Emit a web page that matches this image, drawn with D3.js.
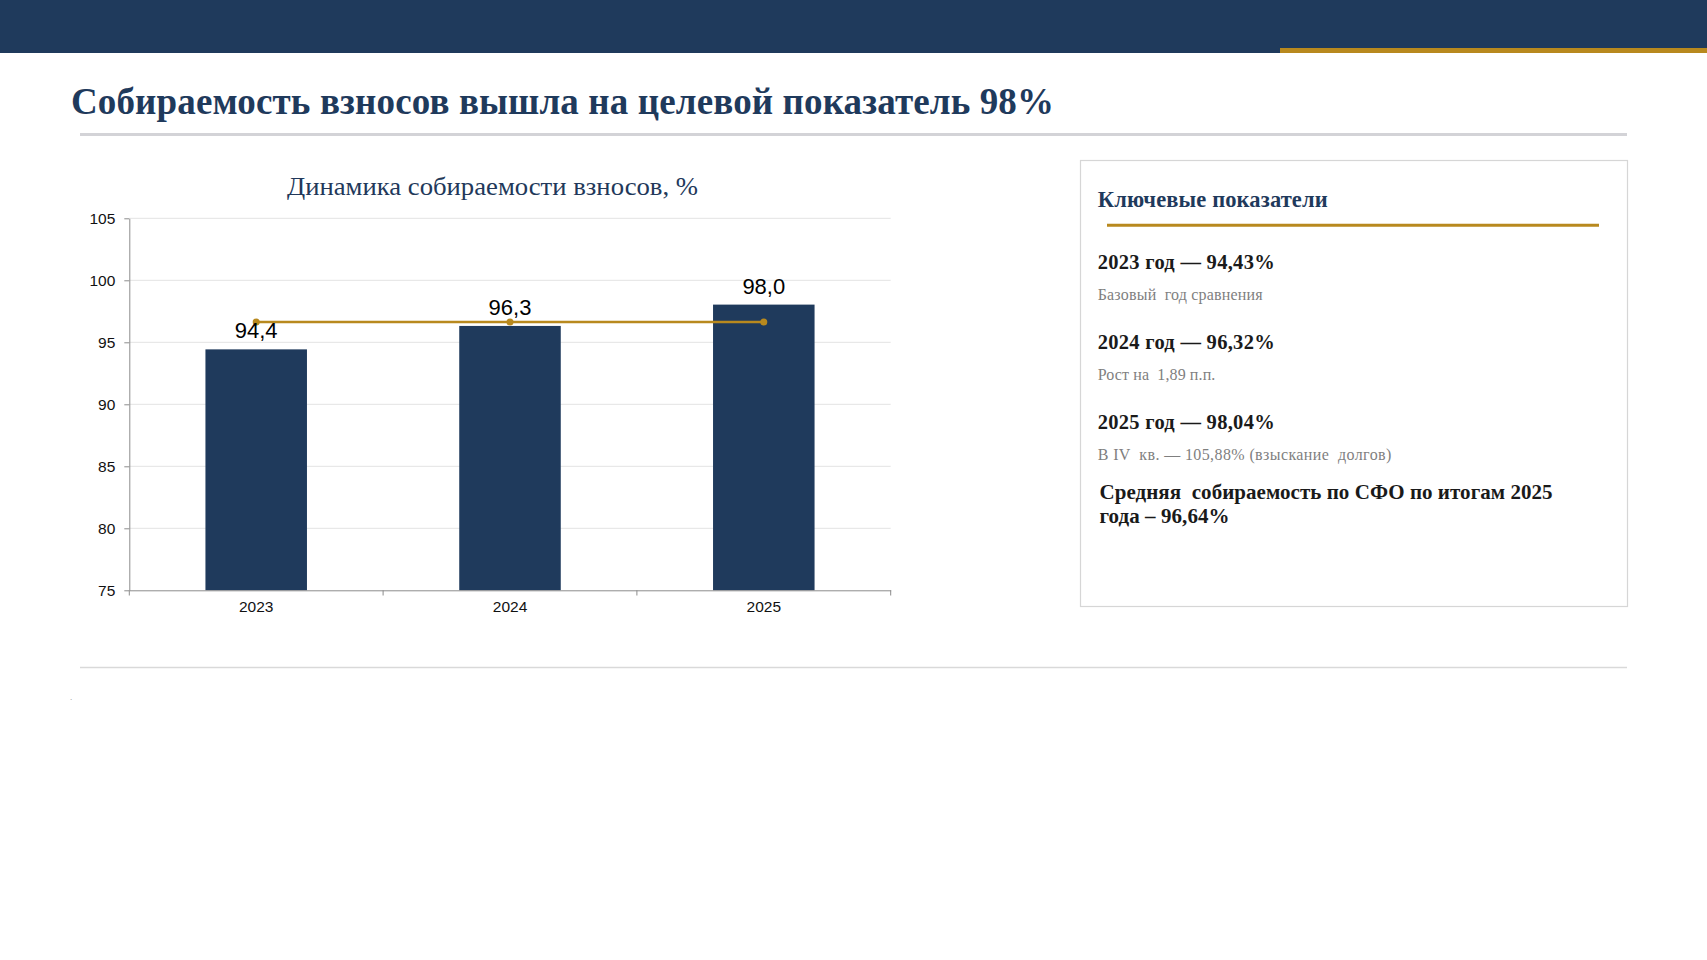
<!DOCTYPE html>
<html><head><meta charset="utf-8">
<script src="https://cdn.jsdelivr.net/npm/d3@7"></script>
<style>body{margin:0;background:#fff}svg{display:block}</style>
</head><body>
<svg id="c" width="1707" height="960"></svg>
<script>
const years = ["2023", "2024", "2025"];
const collection = [94.43, 96.32, 98.04];
const sfoAverage = [96.64, 96.64, 96.64];
const yTicks = [75, 80, 85, 90, 95, 100, 105];
const pageTitle = "Собираемость взносов вышла на целевой показатель 98%";
const chartTitle = "Динамика собираемости взносов, %";
const panelTitle = "Ключевые показатели";
const panelHeads = ["2023 год — 94,43%", "2024 год — 96,32%", "2025 год — 98,04%"];
const panelNotes = ["Базовый  год сравнения", "Рост на  1,89 п.п.", "В IV  кв. — 105,88% (взыскание  долгов)"];
const panelSummary = ["Средняя  собираемость по СФО по итогам 2025", "года – 96,64%"];

const NAVY = "#1f3a5c", GOLD = "#b8891e";
const SERIF = "'Liberation Serif','Times New Roman',serif";
const SANS = "'Liberation Sans',Arial,sans-serif";
const svg = d3.select("#c");

// header band
svg.append("rect").attr("x", 0).attr("y", 0).attr("width", 1707).attr("height", 53).attr("fill", NAVY);
svg.append("rect").attr("x", 1280).attr("y", 48).attr("width", 427).attr("height", 5).attr("fill", GOLD);

svg.append("text").text(pageTitle)
  .attr("x", 71).attr("y", 114)
  .attr("font-family", SERIF).attr("font-weight", "bold").attr("font-size", 37)
  .attr("fill", NAVY).attr("textLength", 983).attr("lengthAdjust", "spacing");

svg.append("line").attr("x1", 80).attr("x2", 1627).attr("y1", 134.5).attr("y2", 134.5)
  .attr("stroke", "#d3d3d7").attr("stroke-width", 3);
svg.append("line").attr("x1", 80).attr("x2", 1627).attr("y1", 667.5).attr("y2", 667.5)
  .attr("stroke", "#d9d9d9").attr("stroke-width", 1.5);
svg.append("text").text(".").attr("x", 70).attr("y", 700).attr("font-size", 8)
  .attr("fill", "#888").attr("font-family", SANS);

// chart
const x = d3.scaleBand().domain(years).range([129.3, 890.7]).paddingInner(0.6).paddingOuter(0.3);
const y = d3.scaleLinear().domain([75, 105]).range([590.3, 218.3]);
const cx = d => x(d) + x.bandwidth() / 2;
const fmt = v => d3.format(".1f")(v).replace(".", ",");

svg.append("text").text(chartTitle)
  .attr("x", 492.5).attr("y", 195).attr("text-anchor", "middle")
  .attr("font-family", SERIF).attr("font-size", 26).attr("fill", "#22385a")
  .attr("textLength", 411).attr("lengthAdjust", "spacingAndGlyphs");

svg.append("g").selectAll("line").data(yTicks.filter(t => t > 75)).join("line")
  .attr("x1", 129.3).attr("x2", 890.7).attr("y1", d => y(d)).attr("y2", d => y(d))
  .attr("stroke", "#e3e3e3").attr("stroke-width", 1);

const yAxis = svg.append("g").attr("transform", "translate(129.3,0)")
  .call(d3.axisLeft(y).tickValues(yTicks).tickSize(5).tickSizeOuter(0).tickPadding(9));
yAxis.selectAll("path,line").attr("stroke", "#8c8c8c");
yAxis.selectAll("text").attr("font-family", SANS).attr("font-size", 15.5).attr("fill", "#111");

svg.append("g").selectAll("rect").data(years).join("rect")
  .attr("x", d => x(d)).attr("width", x.bandwidth())
  .attr("y", (d, i) => y(collection[i])).attr("height", (d, i) => y(75) - y(collection[i]))
  .attr("fill", NAVY);

const xAxis = svg.append("g").attr("transform", "translate(0,590.3)")
  .call(d3.axisBottom(x).tickSize(0).tickSizeOuter(0).tickPadding(11));
xAxis.select("path").attr("stroke", "#8c8c8c");
xAxis.selectAll("text").attr("font-family", SANS).attr("font-size", 15.5).attr("fill", "#111");
const bounds = [0, 1, 2, 3].map(i => 129.3 + i * x.step());
svg.append("g").selectAll("line").data(bounds).join("line")
  .attr("x1", d => d).attr("x2", d => d).attr("y1", 590.3).attr("y2", 595.5)
  .attr("stroke", "#8c8c8c");

svg.append("path").datum(years)
  .attr("d", d3.line().x(d => cx(d)).y((d, i) => y(sfoAverage[i])))
  .attr("fill", "none").attr("stroke", GOLD).attr("stroke-width", 2.5);
svg.append("g").selectAll("circle").data(years).join("circle")
  .attr("cx", d => cx(d)).attr("cy", (d, i) => y(sfoAverage[i])).attr("r", 3.5).attr("fill", GOLD);

svg.append("g").selectAll("text").data(years).join("text")
  .attr("x", d => cx(d)).attr("y", (d, i) => y(collection[i]) - 11)
  .attr("text-anchor", "middle").attr("font-family", SANS).attr("font-size", 22).attr("fill", "#000")
  .text((d, i) => fmt(collection[i]));

// right panel
svg.append("rect").attr("x", 1080.5).attr("y", 160.5).attr("width", 547).attr("height", 446)
  .attr("fill", "none").attr("stroke", "#d6d6d6").attr("stroke-width", 1.2);
svg.append("text").text(panelTitle).attr("x", 1097.7).attr("y", 207.3)
  .attr("font-family", SERIF).attr("font-weight", "bold").attr("font-size", 22.5).attr("fill", NAVY)
  .attr("textLength", 230).attr("lengthAdjust", "spacing");
svg.append("line").attr("x1", 1107).attr("x2", 1599).attr("y1", 225.3).attr("y2", 225.3)
  .attr("stroke", GOLD).attr("stroke-width", 3);

const headY = [269.3, 349.3, 428.5];
const noteY = [300, 380, 460];
const noteW = [165, 117.6, 293.6];
svg.append("g").selectAll("text").data(panelHeads).join("text")
  .attr("x", 1097.7).attr("y", (d, i) => headY[i]).text(d => d)
  .attr("font-family", SERIF).attr("font-weight", "bold").attr("font-size", 20.5).attr("fill", "#1a1a1a")
  .attr("textLength", 177).attr("lengthAdjust", "spacing");
svg.append("g").selectAll("text").data(panelNotes).join("text")
  .attr("x", 1097.7).attr("y", (d, i) => noteY[i]).text(d => d)
  .style("white-space", "pre")
  .attr("font-family", SERIF).attr("font-size", 16).attr("fill", "#7f7f7f")
  .attr("textLength", (d, i) => noteW[i]).attr("lengthAdjust", "spacing");
const sumY = [499, 523.3], sumW = [453, 130];
svg.append("g").selectAll("text").data(panelSummary).join("text")
  .attr("x", 1099.5).attr("y", (d, i) => sumY[i]).text(d => d)
  .style("white-space", "pre")
  .attr("font-family", SERIF).attr("font-weight", "bold").attr("font-size", 21).attr("fill", "#1a1a1a")
  .attr("textLength", (d, i) => sumW[i]).attr("lengthAdjust", "spacing");
</script>
</body></html>
